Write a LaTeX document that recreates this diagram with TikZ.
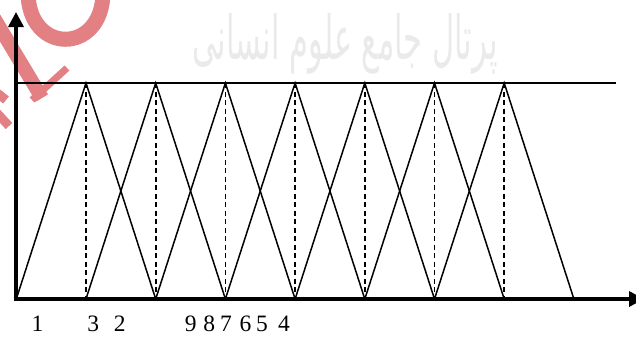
\documentclass[tikz,border=0pt]{standalone}
\usepackage{fontspec}
\setmainfont{Liberation Serif}
\newfontfamily\arabicfont[Script=Arabic]{DejaVu Sans}
\TeXXeTstate=1
\usetikzlibrary{arrows.meta}
\definecolor{wmred}{RGB}{226,128,131}
\definecolor{wmgray}{RGB}{234,234,234}
\tikzset{
  axisline/.style={line width=3.4pt, -{Triangle[length=15pt,width=15pt]}},
  triline/.style={line width=1.5pt, line join=miter},
  dropline/.style={line width=1.6pt, dash pattern=on 5pt off 3.5pt},
  toplinestyle/.style={line width=1.6pt},
  numlabel/.style={inner sep=0pt, font=\fontsize{23.5}{28}\selectfont},
  redmark/.style={draw=wmred, line cap=butt}
}
\begin{document}
\begin{tikzpicture}[x=1pt,y=-1pt]
\useasboundingbox (0,0) rectangle (636,338);
\clip (0,0) rectangle (636,338);
% watermarks
\node[text=wmgray, inner sep=0pt] (wm) at (345,44) {\resizebox{305pt}{46pt}{\arabicfont\beginR پرتال جامع علوم انسانی\endR}};
\draw[redmark, line width=15pt] (28,-8) .. controls (28,55) and (103,55) .. (103,-8);
\draw[redmark, line width=14pt] (-6,18) -- (42,98);
\draw[redmark, line width=7pt] (32,100) -- (67,68);
\draw[redmark, line width=9pt] (-4,92) -- (6,100);
\draw[redmark, line width=9pt] (-4,112) -- (9,126);
% coordinates
\coordinate (O) at (16,299);
\coordinate (ytip) at (16,12);
\coordinate (xtip) at (644,299);
\coordinate (tl) at (16,83);
\coordinate (tr) at (616,83);
\foreach \i in {0,...,6} {
  \pgfmathsetmacro{\px}{86+69.7*\i}
  \coordinate (p\i) at (\px,83);
  \coordinate (d\i) at (\px,299);
  \coordinate (l\i) at (\px-69.7,299);
  \coordinate (r\i) at (\px+69.7,299);
}
% top line
\draw[toplinestyle] (tl) -- (tr);
% triangles
\foreach \i in {0,...,6} {
  \draw[triline] (l\i) -- (p\i) -- (r\i);
  \draw[dropline] (p\i) -- (d\i);
}
% axes
\draw[axisline] (O) -- (ytip);
\draw[axisline] ([xshift=-1.7pt]O) -- (xtip);
% labels
\node[numlabel] (n1) at (37.5,324) {1};
\node[numlabel] (n3) at (93.3,324) {3};
\node[numlabel] (n2) at (119.7,324) {2};
\node[numlabel] (n9) at (190.8,324) {9};
\node[numlabel] (n8) at (209.2,324) {8};
\node[numlabel] (n7) at (226,324) {7};
\node[numlabel] (n6) at (245.5,324) {6};
\node[numlabel] (n5) at (262,324) {5};
\node[numlabel] (n4) at (284,324) {4};
\end{tikzpicture}
\end{document}
